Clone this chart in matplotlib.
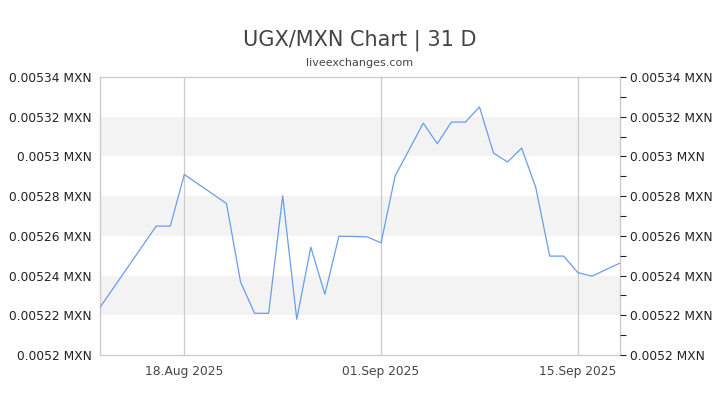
import numpy as np
import pandas as pd
import matplotlib
matplotlib.use("Agg")
import matplotlib.pyplot as plt
from matplotlib.ticker import MultipleLocator

dates = [
    "2025-08-12", "2025-08-16", "2025-08-17", "2025-08-18", "2025-08-21",
    "2025-08-22", "2025-08-23", "2025-08-24", "2025-08-25", "2025-08-26",
    "2025-08-27", "2025-08-28", "2025-08-29", "2025-08-30", "2025-08-31",
    "2025-09-01", "2025-09-02", "2025-09-03", "2025-09-04", "2025-09-05",
    "2025-09-06", "2025-09-07", "2025-09-08", "2025-09-09", "2025-09-10",
    "2025-09-11", "2025-09-12", "2025-09-13", "2025-09-14", "2025-09-15",
    "2025-09-16", "2025-09-18",
]
rates = [
    0.005224, 0.0052649, 0.0052649, 0.0052909, 0.0052763,
    0.0052368, 0.005221, 0.005221, 0.0052802, 0.005218,
    0.0052543, 0.0052306, 0.0052598, 0.0052597, 0.0052595,
    0.0052565, 0.0052902, 0.0053034, 0.0053168, 0.0053064,
    0.0053173, 0.0053173, 0.0053249, 0.0053017, 0.0052972,
    0.0053042, 0.0052845, 0.0052498, 0.0052498, 0.0052415,
    0.0052397, 0.0052463,
]
y_ticks = [0.0052, 0.00522, 0.00524, 0.00526, 0.00528, 0.0053, 0.00532, 0.00534]
y_labels = ["0.0052 MXN", "0.00522 MXN", "0.00524 MXN", "0.00526 MXN",
            "0.00528 MXN", "0.0053 MXN", "0.00532 MXN", "0.00534 MXN"]
x_ticks = ["2025-08-18", "2025-09-01", "2025-09-15"]
x_labels = ["18.Aug 2025", "01.Sep 2025", "15.Sep 2025"]

x = pd.to_datetime(dates)
xt = pd.to_datetime(x_ticks)

fig = plt.figure(figsize=(7.2, 4.05), dpi=100)
ax = fig.add_axes([100 / 720, 1 - 355 / 405, 520 / 720, 278 / 405])

grid_col = "#cccccc"
# alternating grey bands
for i in range(1, len(y_ticks) - 1, 2):
    ax.axhspan(y_ticks[i], y_ticks[i + 1], color="#f3f3f3", zorder=0, lw=0)
for t in xt:
    ax.axvline(t, color=grid_col, lw=0.9, zorder=1)

ax.plot(x, rates, color="#6b9cea", lw=0.9, zorder=3)

ax.set_xlim(pd.Timestamp("2025-08-12"), pd.Timestamp("2025-09-18"))
ax.set_ylim(y_ticks[0], y_ticks[-1])

for s in ax.spines.values():
    s.set_color(grid_col)
    s.set_linewidth(1)

# right axis with ticks
ax2 = ax.twinx()
ax2.set_ylim(ax.get_ylim())
ax2.set_yticks(y_ticks)
ax2.set_yticklabels(y_labels, fontsize=8.8, color="#222222")
ax2.yaxis.set_minor_locator(MultipleLocator(0.00001))
ax2.tick_params(axis="y", which="major", length=4, width=0.8, color="#222222", pad=3)
ax2.tick_params(axis="y", which="minor", length=4, width=0.8, color="#222222")
for s in ax2.spines.values():
    s.set_visible(False)

ax.set_yticks(y_ticks)
ax.set_yticklabels(y_labels, fontsize=8.8, color="#222222")
ax.tick_params(axis="y", left=False, right=False, length=0, pad=6)
ax.set_xticks(xt)
ax.set_xticklabels(x_labels, fontsize=8.8, color="#444444")
ax.tick_params(axis="x", bottom=False, length=0, pad=7)

fig.text(0.5, 1 - 40 / 405, "UGX/MXN Chart | 31 D", ha="center", va="center",
         fontsize=15, color="#444444")
fig.text(0.5, 1 - 63 / 405, "liveexchanges.com", ha="center", va="center",
         fontsize=8, color="#444444")

fig.savefig("out.png", dpi=100)
